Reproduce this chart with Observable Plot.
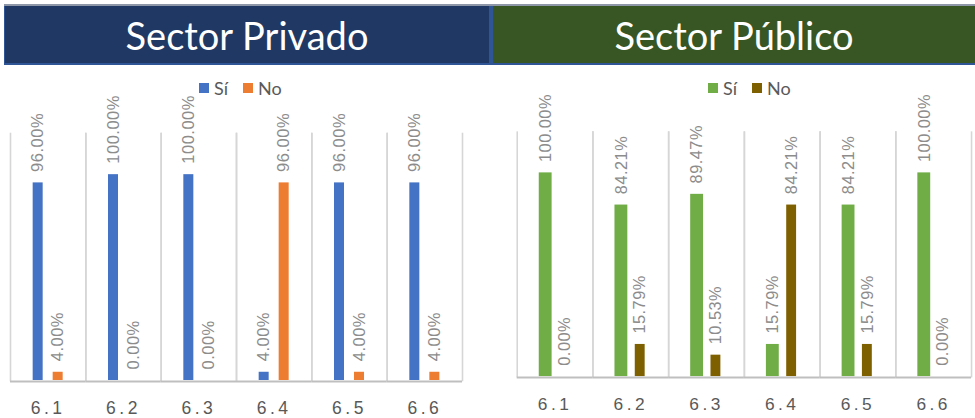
<!DOCTYPE html>
<html>
<head>
<meta charset="utf-8">
<script src="https://cdn.jsdelivr.net/npm/d3@7"></script>
<script src="https://cdn.jsdelivr.net/npm/@observablehq/plot@0.6"></script>
<style>
  body { margin: 0; background: #fff; }
  #root { position: relative; width: 975px; height: 418px; overflow: hidden; font-family: Lato, sans-serif; }
  .band { position: absolute; left: 4px; top: 4px; width: 971px; height: 61px; background: #2F5597; border-top: 2px solid #8d97a8; box-sizing: border-box; }
  .head { position: absolute; top: 6px; height: 57px; color: #fff; font-family: Lato, sans-serif; font-size: 38px;
          display: flex; align-items: center; justify-content: center; }
  .legend { position: absolute; top: 79px; height: 18px; display: flex; align-items: center; font-family: Lato, sans-serif; font-size: 18px; color: #595959; }
  .legend .sw { display: inline-block; width: 10px; height: 10px; margin-right: 5px; }
  .legend .item { display: flex; align-items: center; margin-right: 15px; }
  .panel { position: absolute; top: 0; height: 418px; overflow: hidden; }
  .panel g[aria-label^="fx-axis"] text { letter-spacing: 3.5px; }
  .panel g[aria-label="text"] text { letter-spacing: 0.5px; }
</style>
</head>
<body>
<div id="root">
  <div class="band"></div>
  <div class="head" style="left:5px;width:484px;background:#203864;">Sector Privado</div>
  <div class="head" style="left:493px;width:482px;background:#375623;">Sector Público</div>
  <div class="legend" id="legPriv" style="left:199px;"></div>
  <div class="legend" id="legPub" style="left:708px;"></div>
  <div class="panel" id="priv" style="left:0;width:490px;"></div>
  <div class="panel" id="pub" style="left:490px;width:485px;"></div>
</div>
<script>
// Question items and answer series
const categories = ["6.1", "6.2", "6.3", "6.4", "6.5", "6.6"];
const series = ["Sí", "No"];

// Share of answers, private sector
const privadoSi = [0.96, 1.00, 1.00, 0.04, 0.96, 0.96];
const privadoNo = [0.04, 0.00, 0.00, 0.96, 0.04, 0.04];

// Share of answers, public sector
const publicoSi = [1.00, 0.8421, 0.8947, 0.1579, 0.8421, 1.00];
const publicoNo = [0.00, 0.1579, 0.1053, 0.8421, 0.1579, 0.00];

const privadoColors = ["#4472C4", "#ED7D31"];
const publicoColors = ["#70AD47", "#7F6000"];

const fmt = d3.format(".2%");

function rowsOf(si, no) {
  return categories.flatMap((cat, i) => [
    {cat, serie: series[0], value: si[i]},
    {cat, serie: series[1], value: no[i]}
  ]);
}

function legend(el, colors) {
  series.forEach((s, i) => {
    const item = document.createElement("span");
    item.className = "item";
    const sw = document.createElement("span");
    sw.className = "sw";
    sw.style.background = colors[i];
    item.appendChild(sw);
    item.appendChild(document.createTextNode(s));
    el.appendChild(item);
  });
}

function panel({rows, colors, width, marginLeft, marginRight, paddingInner, paddingOuter, noInset}) {
  return Plot.plot({
    width,
    height: 418,
    marginTop: 133,
    marginBottom: 38,
    marginLeft,
    marginRight,
    facet: {data: rows, x: "cat"},
    fx: {domain: categories, padding: 0, round: false, axis: "bottom", label: null, tickSize: 0, tickPadding: 21},
    x: {domain: series, axis: null, paddingInner, paddingOuter, round: false},
    y: {domain: [0, 1.2], axis: null},
    color: {domain: series, range: colors},
    style: {fontFamily: "Liberation Sans, Arial, sans-serif", fontSize: "17.5px", color: "#595959", background: "transparent"},
    marks: [
      Plot.frame({anchor: "left", stroke: "#d6d6d6", strokeWidth: 1.6}),
      Plot.frame({anchor: "right", stroke: "#d6d6d6", strokeWidth: 1.6}),
      Plot.barY(rows, {filter: d => d.serie === series[0], x: "serie", y: "value", fill: "serie"}),
      Plot.barY(rows, {filter: d => d.serie === series[1], x: "serie", y: "value", fill: "serie", insetLeft: noInset, insetRight: noInset}),
      Plot.ruleY([0], {stroke: "#bfbfbf", strokeWidth: 2, dy: 1}),
      Plot.text(rows, {
        x: "serie", y: "value", text: d => fmt(d.value),
        rotate: -90, textAnchor: "start", lineAnchor: "middle", dy: -11,
        fill: "#8c8c8c", fontSize: 16.5
      })
    ]
  });
}

legend(document.getElementById("legPriv"), privadoColors);
legend(document.getElementById("legPub"), publicoColors);

document.getElementById("priv").appendChild(panel({
  rows: rowsOf(privadoSi, privadoNo), colors: privadoColors,
  width: 490, marginLeft: 10, marginRight: 28,
  paddingInner: 0.5, paddingOuter: 1.133, noInset: 0
}));

document.getElementById("pub").appendChild(panel({
  rows: rowsOf(publicoSi, publicoNo), colors: publicoColors,
  width: 490, marginLeft: 27, marginRight: 4,
  paddingInner: 0.316, paddingOuter: 1.171, noInset: 1.5
}));
</script>
</body>
</html>
